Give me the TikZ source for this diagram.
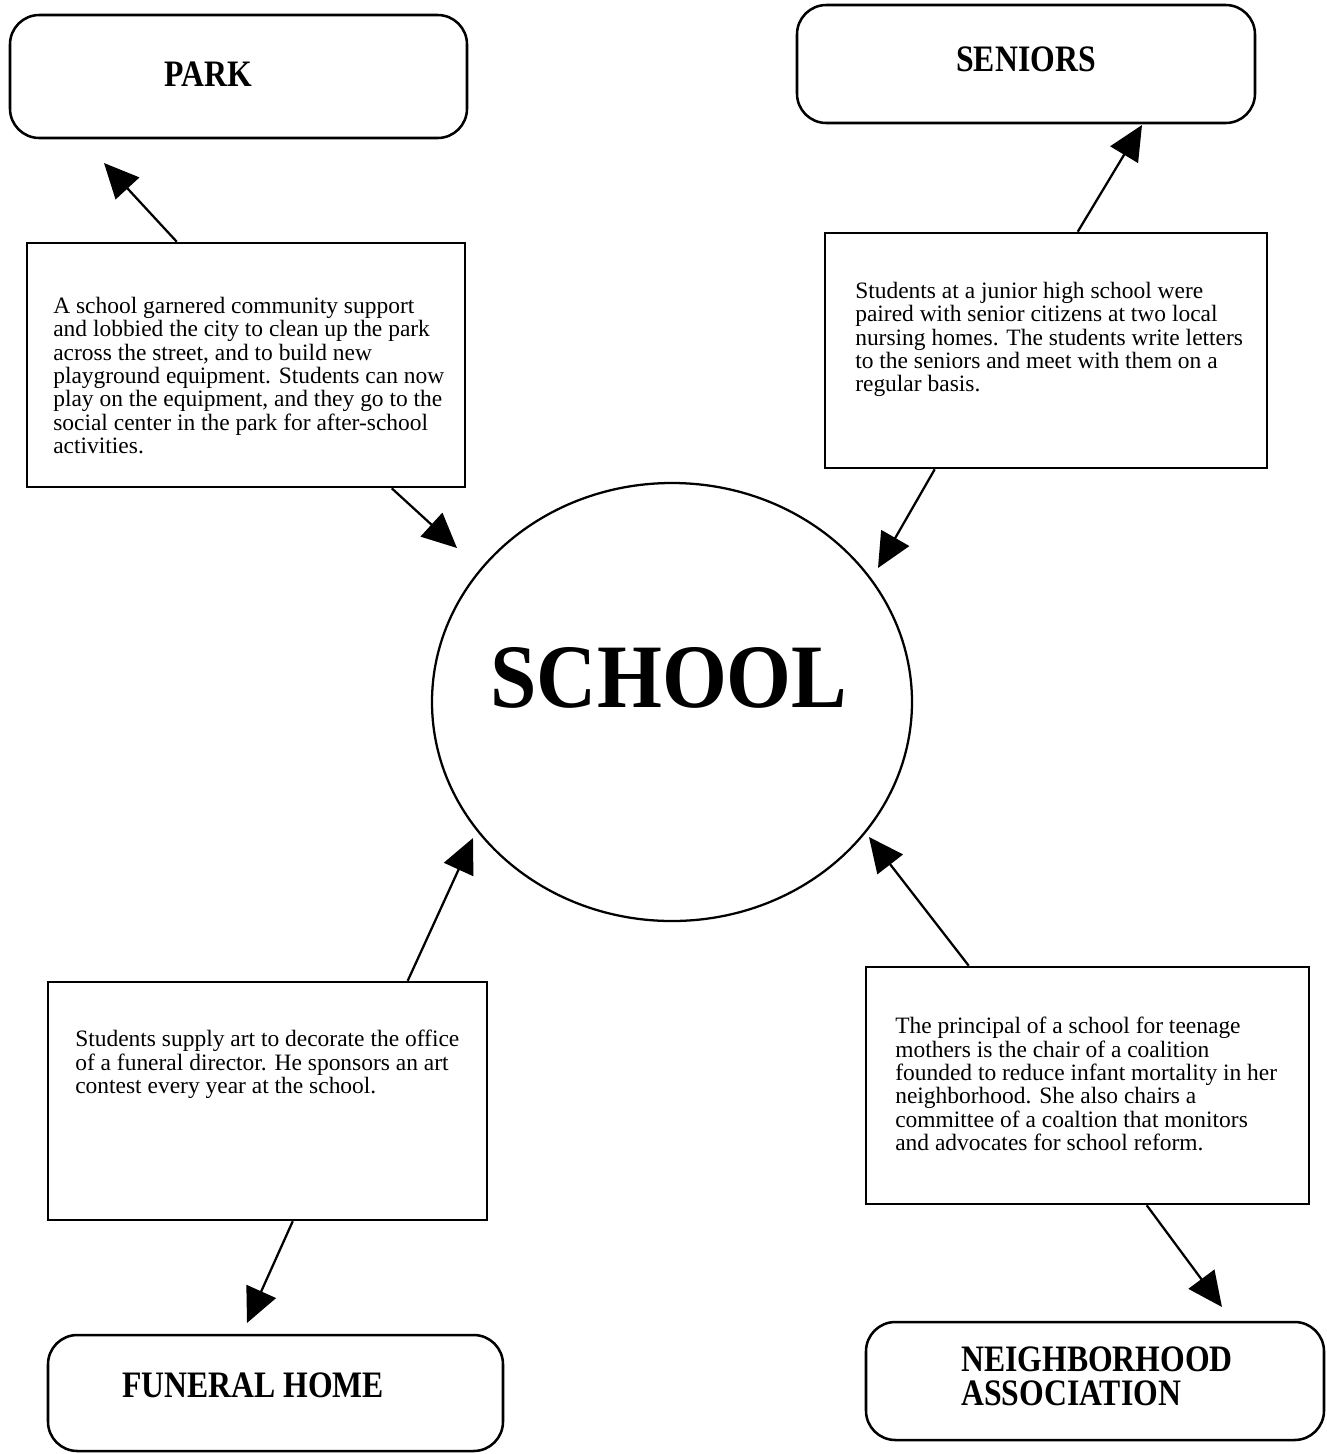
\documentclass[tikz,border=0pt]{standalone}
\usepackage{fontspec}
\setmainfont{Liberation Serif}
\newfontfamily\headfont[FakeStretch=0.85]{Liberation Serif}
\newfontfamily\hubfont[FakeStretch=0.92]{Liberation Serif}
\usetikzlibrary{arrows.meta,calc,fit,shapes.geometric}

\begin{document}
\begin{tikzpicture}[x=0.75pt,y=-0.75pt,
  headbox/.style={draw, line width=1.9pt, rounded corners=22pt, inner sep=0pt},
  storybox/.style={draw, line width=1.9pt, inner sep=0pt},
  headtext/.style={font={\headfont\bfseries\fontsize{28}{25.5}\selectfont}, inner sep=0pt, align=left},
  story/.style={font={\fontsize{17.6}{17.5}\selectfont}, inner sep=0pt, align=left, anchor=north west},
  conn/.style={line width=1.7pt, -{Triangle[length=26pt,width=24pt]}}]

\useasboundingbox (0,0) rectangle (1327,1454);

% central hub
\node[draw, line width=1.7pt, ellipse, minimum width=480*0.75pt, minimum height=438*0.75pt, inner sep=0pt]
  (school) at (672,702) {};
\node[font={\hubfont\bfseries\fontsize{68}{68}\selectfont}, inner sep=0pt] (schoollbl) at (669,678) {SCHOOL};

% partner boxes
\node[headbox, fit={(10,15) (467,138)}] (park) {};
\node[headtext] (parklbl) at (208,74) {PARK};

\node[headbox, fit={(797,5) (1255,123)}] (seniors) {};
\node[headtext] (seniorslbl) at (1026,59) {SENIORS};

\node[headbox, fit={(48,1335) (503,1451)}] (funeral) {};
\node[headtext] (funerallbl) at (253,1385) {FUNERAL HOME};

\node[headbox, fit={(866,1322) (1324,1440)}] (neigh) {};
\node[headtext] (neighlbl) at (1097,1376) {NEIGHBORHOOD\\ASSOCIATION};

% story boxes
\node[storybox, fit={(27,243) (465,487)}] (parktext) {};
\node[story] (parkstory) at (53,297) {A school garnered community support\\
and lobbied the city to clean up the park\\
across the street, and to build new\\
playground equipment. Students can now\\
play on the equipment, and they go to the\\
social center in the park for after-school\\
activities.};

\node[storybox, fit={(825,233) (1267,468)}] (seniortext) {};
\node[story] (seniorstory) at (855,282) {Students at a junior high school were\\
paired with senior citizens at two local\\
nursing homes. The students write letters\\
to the seniors and meet with them on a\\
regular basis.};

\node[storybox, fit={(48,982) (487,1220)}] (funeraltext) {};
\node[story] (funeralstory) at (75,1030) {Students supply art to decorate the office\\
of a funeral director. He sponsors an art\\
contest every year at the school.};

\node[storybox, fit={(866,967) (1309,1204)}] (neightext) {};
\node[story] (neighstory) at (895,1017) {The principal of a school for teenage\\
mothers is the chair of a coalition\\
founded to reduce infant mortality in her\\
neighborhood. She also chairs a\\
committee of a coaltion that monitors\\
and advocates for school reform.};

% arrow tips
\coordinate (tipPark) at (104,163);
\coordinate (tipParkSchool) at (457,548);
\coordinate (tipSeniors) at (1142,125);
\coordinate (tipSeniorsSchool) at (878,568);
\coordinate (tipFuneralSchool) at (473,838);
\coordinate (tipFuneral) at (247,1323);
\coordinate (tipNeighSchool) at (869,837);
\coordinate (tipNeigh) at (1222,1307);

% connectors
\draw[conn] ($(parktext.north west)+(151,0)$) -- (tipPark);
\draw[conn] ($(parktext.south west)+(366,0)$) -- (tipParkSchool);
\draw[conn] ($(seniortext.north west)+(254,0)$) -- (tipSeniors);
\draw[conn] ($(seniortext.south west)+(111,0)$) -- (tipSeniorsSchool);
\draw[conn] ($(funeraltext.north west)+(361,0)$) -- (tipFuneralSchool);
\draw[conn] ($(funeraltext.south west)+(246,0)$) -- (tipFuneral);
\draw[conn] ($(neightext.north west)+(104,0)$) -- (tipNeighSchool);
\draw[conn] ($(neightext.south west)+(282,0)$) -- (tipNeigh);
\end{tikzpicture}
\end{document}
